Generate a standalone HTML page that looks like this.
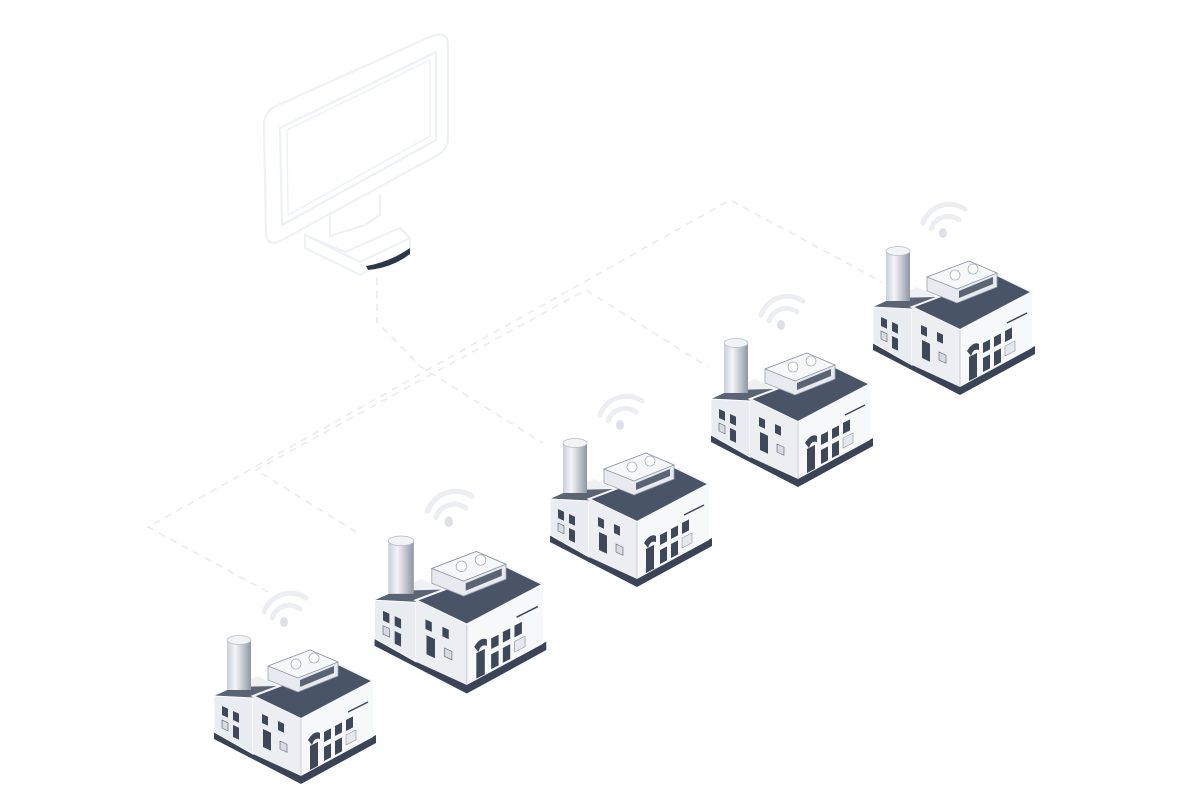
<!DOCTYPE html>
<html><head><meta charset="utf-8"><style>
html,body{margin:0;padding:0;background:#fff;width:1200px;height:800px;overflow:hidden}
svg{display:block}
</style></head><body>
<svg width="1200" height="800" viewBox="0 0 1200 800" xmlns="http://www.w3.org/2000/svg">
<defs>
<linearGradient id="chim" x1="0" x2="1" y1="0" y2="0">
<stop offset="0" stop-color="#c9ced6"/><stop offset="0.35" stop-color="#f4f5f7"/><stop offset="1" stop-color="#8e96a3"/>
</linearGradient>
<g id="fac">
<polygon points="-24,88 63,132 138,93 138,101 63,142 -24,97" fill="#3a4456"/>
<polygon points="-24,54 20,34 40,44 15,56 15,112 -24,90" fill="#eef0f3"/>
<polygon points="-24,54 -4,45 40,44 15,56" fill="#5b6474"/>
<polygon points="-24,54 15,56 15,112 -24,90" fill="#e9ecf0" stroke="#fff" stroke-width="1"/>
<rect x="-11" y="-2" width="24" height="50" fill="url(#chim)"/>
<ellipse cx="1" cy="-2" rx="12" ry="4.5" fill="#f2f3f5" stroke="#b8bec8" stroke-width="0.8"/>
<polygon points="15,54 100,22 135,39 63,77" fill="#4a5467" stroke="#f5f6f8" stroke-width="2"/>
<polygon points="15,54 63,77 63,134 15,112" fill="#eceef2"/>
<polygon points="63,77 135,39 135,95 63,134" fill="#f7f8fa"/>
<line x1="63" y1="77" x2="63" y2="134" stroke="#c9ced6" stroke-width="1"/>
<polygon points="30,24 72,8 100,20 100,34 60,50 30,38" fill="#e7eaee" stroke="#9aa2ae" stroke-width="0.8"/>
<polygon points="30,24 72,8 100,20 60,36" fill="#f6f7f9" stroke="#8d95a2" stroke-width="0.8"/>
<polygon points="62,38 96,24 96,31 62,45" fill="#5b6474"/>
<circle cx="58" cy="22" r="5" fill="#fff" stroke="#aab0ba" stroke-width="0.8"/>
<circle cx="76" cy="16" r="5" fill="#fff" stroke="#aab0ba" stroke-width="0.8"/>
<rect x="-16" y="64" width="6" height="9" fill="#3f4858" transform="skewY(25)" transform-origin="-16 64"/>
<rect x="-5" y="69" width="6" height="9" fill="#3f4858" transform="skewY(25)" transform-origin="-5 69"/>
<rect x="-5" y="83" width="6" height="12" fill="#3f4858" transform="skewY(25)" transform-origin="-5 83"/>
<rect x="-16" y="78" width="6" height="8" fill="#d7dbe1" stroke="#59606d" stroke-width="0.6" transform="skewY(25)" transform-origin="-16 78"/>
<rect x="24" y="72" width="6" height="9" fill="#3f4858" transform="skewY(25)" transform-origin="24 72"/>
<rect x="40" y="79" width="6" height="9" fill="#3f4858" transform="skewY(25)" transform-origin="40 79"/>
<rect x="25" y="87" width="8" height="18" fill="#3f4858" transform="skewY(25)" transform-origin="25 87"/>
<rect x="42" y="99" width="7" height="8" fill="#d7dbe1" stroke="#59606d" stroke-width="0.6" transform="skewY(25)" transform-origin="42 99"/>
<path d="M70,98 q6,-10 12,-7 l0,6 q-6,-2 -8,6 z" fill="#3f4858"/>
<rect x="72" y="104" width="8" height="24" fill="#3f4858" transform="skewY(-27)" transform-origin="72 104"/>
<rect x="86" y="90" width="7" height="10" fill="#3f4858" transform="skewY(-27)" transform-origin="86 90"/>
<rect x="97" y="84" width="7" height="10" fill="#3f4858" transform="skewY(-27)" transform-origin="97 84"/>
<rect x="108" y="78" width="7" height="11" fill="#3f4858" transform="skewY(-27)" transform-origin="108 78"/>
<rect x="86" y="105" width="7" height="14" fill="#3f4858" transform="skewY(-27)" transform-origin="86 105"/>
<rect x="97" y="99" width="7" height="14" fill="#3f4858" transform="skewY(-27)" transform-origin="97 99"/>
<rect x="108" y="93" width="10" height="10" fill="#e4e7ec" stroke="#8a929e" stroke-width="0.6" transform="skewY(-27)" transform-origin="108 93"/>
<line x1="110" y1="70" x2="130" y2="60" stroke="#3f4858" stroke-width="1.5"/>
<g fill="none" stroke="#eceef2" stroke-linecap="round">
<path d="M26,-30 a28,28 0 0 1 42,-14" stroke-width="5"/>
<path d="M34,-24 a18,18 0 0 1 28,-9" stroke-width="5"/>
</g>
<ellipse cx="46" cy="-20" rx="4" ry="5" fill="#dde1e7"/>
</g>
</defs>

<g fill="none" stroke="#e8ebf0" stroke-width="1.6" stroke-dasharray="7,6">
<polyline points="268,592 148,527 730,200 882,282"/>
<polyline points="356,532 256,470 586,290 708,367"/>
<polyline points="377,278 377,322 421,367 543,443"/>
</g>

<g fill="none" stroke="#eef1f5" stroke-width="2.2" stroke-linejoin="round">
<path d="M264,125 Q264,112 276,106 L432,36 Q448,30 448,46 L448,138 Q448,150 436,156 L282,240 Q266,248 266,232 Z"/>
<path d="M280,128 L436,52 L436,140 L282,225 Z"/>
<path d="M287,130 L430,60 L430,136 L288,215 Z" stroke-width="1.4"/>
<path d="M330,212 L330,236 L365,225 L380,215 L380,195"/>
<path d="M305,235 L360,262 L410,238 L400,228 L345,252 L305,235 Z"/>
<path d="M305,235 L305,248 L360,275 L410,250 L410,238"/>
</g>
<path d="M366,266 Q390,262 410,248 L410,254 Q392,268 368,270 Z" fill="#2e3645"/>

<use href="#fac" transform="translate(238,642)"/>
<use href="#fac" transform="translate(400,543) scale(1.06)"/>
<use href="#fac" transform="translate(574,445)"/>
<use href="#fac" transform="translate(735,345)"/>
<use href="#fac" transform="translate(897,253)"/>
</svg>
</body></html>
